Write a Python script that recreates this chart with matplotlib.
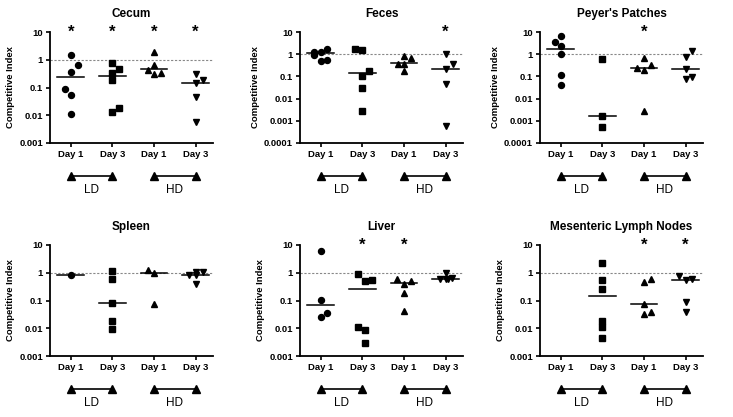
import numpy as np
import matplotlib
matplotlib.use("Agg")
import matplotlib.pyplot as plt
import matplotlib.transforms as mtransforms

plt.rcParams['font.family'] = ['Liberation Sans', 'DejaVu Sans']

# x categories: LD day1, LD day3, HD day1, HD day3
day_labels = ["Day 1", "Day 3", "Day 1", "Day 3"]
group_labels = ["LD", "HD"]
markers = ["o", "s", "^", "v"]

# (value, x jitter) per group
cecum = [
    [(1.5, 0), (0.64, 0.17), (0.37, 0), (0.087, -0.15), (0.053, 0), (0.011, 0)],
    [(0.76, 0), (0.47, 0.17), (0.33, 0), (0.19, 0), (0.019, 0.17), (0.0135, 0)],
    [(1.84, 0), (0.64, 0), (0.44, -0.15), (0.33, 0.17), (0.30, 0)],
    [(0.30, 0), (0.18, 0.17), (0.14, 0), (0.047, 0), (0.0059, 0)],
]
cecum_med = [0.23, 0.26, 0.45, 0.14]
cecum_star = [True, True, True, True]

feces = [
    [(1.25, -0.17), (0.9, -0.17), (1.2, 0), (1.8, 0.16), (0.52, 0), (0.56, 0.16)],
    [(1.75, -0.17), (1.5, 0), (0.175, 0.16), (0.107, 0), (0.029, 0), (0.0029, 0)],
    [(0.81, 0), (0.68, 0.17), (0.38, -0.15), (0.38, 0), (0.175, 0)],
    [(1.0, 0), (0.35, 0.17), (0.22, 0), (0.044, 0), (0.00059, 0)],
]
feces_med = [1.08, 0.145, 0.39, 0.22]
feces_star = [False, False, False, True]

peyers = [
    [(3.5, -0.15), (6.6, 0), (2.4, 0), (1.0, 0), (0.12, 0), (0.042, 0)],
    [(0.59, 0), (0.0017, 0), (0.00053, 0)],
    [(0.7, 0), (0.32, 0.17), (0.23, -0.16), (0.19, 0), (0.0029, 0)],
    [(1.4, 0.16), (0.76, 0), (0.22, 0), (0.08, 0), (0.097, 0.16)],
]
peyers_med = [1.69, 0.0017, 0.23, 0.21]
peyers_star = [False, False, True, False]

spleen = [
    [(0.85, 0)],
    [(1.18, 0), (0.6, 0), (0.082, 0), (0.019, 0), (0.0093, 0)],
    [(1.3, -0.15), (0.95, 0), (0.076, 0)],
    [(1.1, 0), (1.03, 0.17), (0.85, -0.16), (0.8, 0), (0.39, 0)],
]
spleen_med = [0.85, 0.082, 0.95, 0.8]
spleen_star = [False, False, False, False]

liver = [
    [(6.2, 0), (0.105, 0), (0.035, 0.16), (0.026, 0)],
    [(0.87, -0.1), (0.51, 0.06), (0.57, 0.22), (0.011, -0.1), (0.0089, 0.06), (0.003, 0.06)],
    [(0.6, -0.16), (0.49, 0.17), (0.4, 0), (0.18, 0), (0.041, 0)],
    [(1.0, 0), (0.62, -0.14), (0.58, 0), (0.64, 0.15), (0.6, 0.07)],
]
liver_med = [0.07, 0.27, 0.41, 0.6]
liver_star = [False, True, True, False]

mln = [
    [],
    [(2.2, 0), (0.56, 0), (0.27, 0), (0.019, 0), (0.011, 0), (0.0043, 0)],
    [(0.62, 0.17), (0.47, 0), (0.074, 0), (0.038, 0.17), (0.033, 0)],
    [(0.74, -0.16), (0.56, 0), (0.62, 0.16), (0.085, 0), (0.039, 0)],
]
mln_med = [None, 0.145, 0.076, 0.54]
mln_star = [False, False, True, True]

panels = [
    ("Cecum", cecum, cecum_med, cecum_star, 0.001),
    ("Feces", feces, feces_med, feces_star, 0.0001),
    ("Peyer's Patches", peyers, peyers_med, peyers_star, 0.0001),
    ("Spleen", spleen, spleen_med, spleen_star, 0.001),
    ("Liver", liver, liver_med, liver_star, 0.001),
    ("Mesenteric Lymph Nodes", mln, mln_med, mln_star, 0.001),
]

tick_text = {10: "10", 1: "1", 0.1: "0.1", 0.01: "0.01", 0.001: "0.001", 0.0001: "0.0001"}

fig = plt.figure(figsize=(7.33, 4.17), dpi=100)
lefts = [50, 300, 540]
tops = [32, 245]
W, H = 733, 417

for k, (title, groups, meds, stars, ymin) in enumerate(panels):
    r, c = divmod(k, 3)
    ax = fig.add_axes([lefts[c] / W, 1 - (tops[r] + 111) / H, 163 / W, 111 / H])
    ax.set_yscale("log")
    ax.set_ylim(ymin, 10)
    ax.set_xlim(0.5, 4.42)
    ax.axhline(1, color="#888888", lw=0.8, ls=(0, (2, 1.5)), zorder=1)

    for i, pts in enumerate(groups):
        x0 = i + 1
        if pts:
            vals = [p[0] for p in pts]
            xs = [x0 + p[1] for p in pts]
            ax.plot(xs, vals, ls="none", marker=markers[i], ms=4.3,
                    color="black", zorder=3)
        if meds[i] is not None:
            ax.plot([x0 - 0.32, x0 + 0.32], [meds[i], meds[i]], color="black",
                    lw=1.1, zorder=2)
        if stars[i]:
            ax.text(x0, 10, "*", ha="center", va="center", fontsize=12,
                    fontweight="bold")

    ticks = [t for t in [10, 1, 0.1, 0.01, 0.001, 0.0001] if t >= ymin]
    ax.set_yticks(ticks)
    ax.set_yticklabels([tick_text[t] for t in ticks])
    ax.minorticks_off()
    ax.set_xticks([1, 2, 3, 4])
    ax.set_xticklabels(day_labels)
    for lab in ax.get_xticklabels() + ax.get_yticklabels():
        lab.set_fontweight("bold")
        lab.set_fontsize(6.8)
    ax.tick_params(length=3, width=1.2, pad=2)
    for s in ["top", "right"]:
        ax.spines[s].set_visible(False)
    for s in ["left", "bottom"]:
        ax.spines[s].set_linewidth(1.3)
    ax.set_title(title, fontsize=8.5, fontweight="bold", pad=11)
    ax.set_ylabel("Competitive Index", fontsize=6.8, fontweight="bold", labelpad=3)

    trans = mtransforms.blended_transform_factory(ax.transData, ax.transAxes)
    for g, (a, b) in enumerate([(1, 2), (3, 4)]):
        ax.plot([a, b], [-0.30, -0.30], transform=trans, color="black", lw=1.2,
                clip_on=False)
        ax.plot([a, b], [-0.30, -0.30], transform=trans, ls="none", marker="^",
                ms=6, color="black", clip_on=False)
        ax.text((a + b) / 2, -0.42, group_labels[g], transform=trans,
                ha="center", va="center", fontsize=8.5)

fig.savefig("out.png", dpi=100)
